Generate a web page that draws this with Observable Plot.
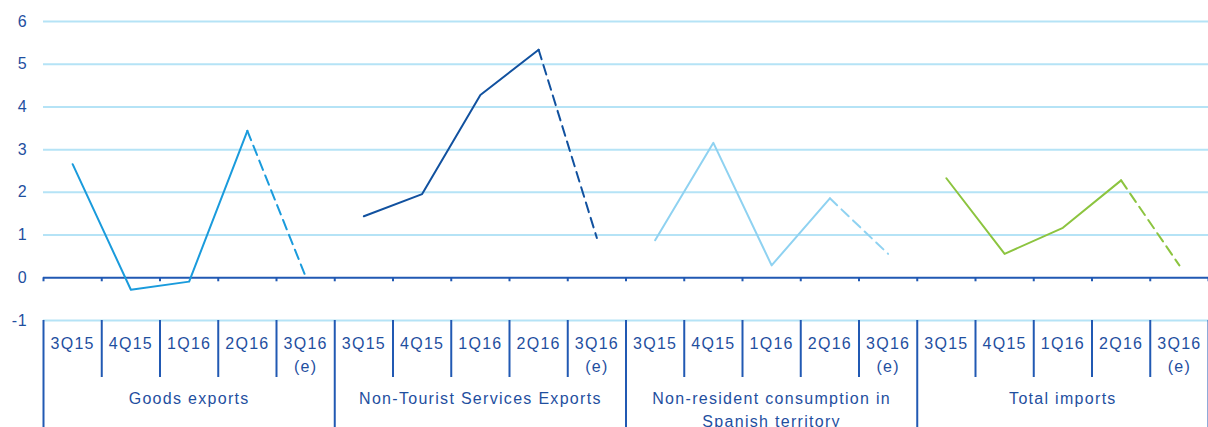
<!DOCTYPE html>
<html>
<head>
<meta charset="utf-8">
<script src="https://cdn.jsdelivr.net/npm/d3@7"></script>
<script src="https://cdn.jsdelivr.net/npm/@observablehq/plot@0.6"></script>
<style>
  html, body { margin: 0; padding: 0; background: #fff; }
  #chart { width: 1208px; height: 427px; overflow: hidden; }
  #chart svg g.xlab text { letter-spacing: 1.3px; }
  #chart svg g.ylab text { letter-spacing: 0.8px; font-size: 16px; }
</style>
</head>
<body>
<div id="chart"></div>
<script>
const groups = ["Goods exports", "Non-Tourist Services Exports", "Non-resident consumption in\nSpanish territory", "Total imports"];
const quarters = ["3Q15", "4Q15", "1Q16", "2Q16", "3Q16\n(e)"];
const goodsExports = [2.66, -0.28, -0.09, 3.44, 0.03];
const nonTouristServices = [1.44, 1.96, 4.28, 5.34, 0.93];
const nonResidentConsumption = [0.88, 3.16, 0.29, 1.86, 0.56];
const totalImports = [2.33, 0.56, 1.17, 2.28, 0.29];
const seriesValues = [goodsExports, nonTouristServices, nonResidentConsumption, totalImports];
const colors = ["#1a9bdc", "#11519f", "#8fd2f1", "#8cc43f"];
const yTicks = [-1, 0, 1, 2, 3, 4, 5, 6];

const textColor = "#1f4f9f";
const axisColor = "#2159b3";
const gridColor = "#b5e3f6";

const rows = [];
groups.forEach((g, gi) => {
  quarters.forEach((q, qi) => {
    rows.push({group: g, gi, qi, quarter: q, slot: gi * quarters.length + qi, value: seriesValues[gi][qi]});
  });
});
const nSlots = groups.length * quarters.length;
const boundaries = d3.range(nSlots + 1);
const groupBounds = boundaries.filter(b => b % quarters.length === 0);
const innerBounds = boundaries.filter(b => b % quarters.length !== 0);
const groupLabels = groups.map((g, gi) => ({label: g, x: gi * quarters.length + quarters.length / 2}));

const solid = rows.filter(d => d.qi <= quarters.length - 2);
const dashed = rows.filter(d => d.qi >= quarters.length - 2);

const chart = Plot.plot({
  width: 1208,
  height: 427,
  marginLeft: 43,
  marginRight: 0,
  marginTop: 21,
  marginBottom: 107,
  style: {fontFamily: "'Liberation Sans', Arial, sans-serif", fontSize: "16px", color: textColor, background: "#fff", overflow: "visible"},
  x: {type: "linear", domain: [0, nSlots], axis: null},
  y: {domain: [-1, 6], axis: null, label: null},
  color: {domain: groups, range: colors},
  marks: [
    Plot.ruleY(yTicks.filter(t => t !== 0), {stroke: gridColor, strokeWidth: 2}),
    Plot.axisY(yTicks, {tickSize: 0, tickPadding: 16, fontSize: 16, fill: textColor, label: null, tickFormat: d => String(d), className: "ylab"}),
    Plot.ruleY([0], {stroke: axisColor, strokeWidth: 2}),
    Plot.ruleX(boundaries, {x: d => d, y1: 0, y2: 0, insetBottom: -4, stroke: axisColor, strokeWidth: 2}),
    Plot.ruleX(innerBounds, {x: d => d, y1: -1, y2: -1, insetBottom: -57, stroke: axisColor, strokeWidth: 2}),
    Plot.ruleX(groupBounds, {x: d => d, y1: -1, y2: -1, insetBottom: -120, stroke: axisColor, strokeWidth: 2}),
    Plot.text(rows, {x: d => d.slot + 0.5, y: -1, text: "quarter", dy: 12, lineAnchor: "top", lineHeight: 1.44, fill: textColor, fontSize: 16, className: "xlab"}),
    Plot.text(groupLabels, {x: "x", y: -1, text: "label", dy: 67, lineAnchor: "top", lineHeight: 1.44, fill: textColor, fontSize: 16, className: "xlab"}),
    Plot.line(solid, {x: d => d.slot + 0.5, y: "value", z: "group", stroke: "group", strokeWidth: 2}),
    Plot.line(dashed, {x: d => d.slot + 0.5, y: "value", z: "group", stroke: "group", strokeWidth: 2, strokeDasharray: "10,6"})
  ]
});
document.getElementById("chart").appendChild(chart);
</script>
</body>
</html>
